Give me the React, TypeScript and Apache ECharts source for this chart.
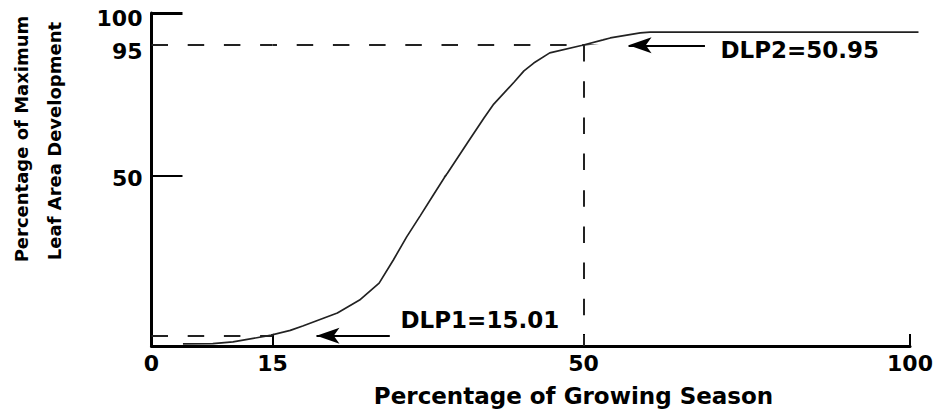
import React, { useEffect, useRef } from "react";
import * as echarts from "echarts";

// ---------------- data ----------------
const seasonPct = [3.9, 7.6, 10.1, 14.7, 17.0, 18.4, 22.3, 24.8, 27.0, 28.6, 30.1, 31.6, 33.1, 34.7, 37.0, 38.8, 39.9, 42.2, 43.3, 44.4, 46.2, 50.0, 53.0, 54.1, 58.7, 60.2, 66.3, 101.3];
const leafAreaPct = [0.6, 0.7, 1.2, 3.1, 4.6, 5.9, 9.7, 13.5, 18.5, 25.3, 32.1, 38.2, 44.4, 51.0, 61.7, 69.9, 74.7, 82.3, 86.1, 88.8, 92.3, 95.0, 95.8, 96.1, 96.9, 97.0, 97.0, 97.0];

const xTicks = [0, 15, 50, 100];
const yTicks = [0, 50, 95, 100];

const dlpNames = ["DLP1=15.01", "DLP2=50.95"];
const dlpSeason = [15, 50];
const dlpLeaf = [3, 95];

// ---------------- layout (the schematic axes are piecewise) ----------------
const X_PIX = [151.5, 272.5, 583.5, 910];
const Y_PIX = [346, 176, 45, 13];
const Y_LABEL_SHIFT = [2.5, 6, 5];
const DASH = [16.5, 19.7];
const DASH_PERIOD = DASH[0] + DASH[1];
// annotation anchors, in data units of the segment where they sit
const ARROW1 = [[19.95, 3], [28.2, 3]];
const ARROW2 = [[56.9, 94.9], [68.6, 94.9]];
const LABEL1_AT = [29.35, 7.65];
const LABEL2_AT = [70.9, 93.3];

const FONT = '"DejaVu Sans", Verdana, sans-serif';
const INK = "#000";
const LINE = "#222";

function gi(i: number, j: number) {
  return j * 3 + i;
}

function buildOption() {
  const grids: any[] = [];
  const xAxes: any[] = [];
  const yAxes: any[] = [];
  const series: any[] = [];
  const xEnd = Math.max(xTicks[3], ...seasonPct);
  const curve = seasonPct.map((x, k) => [x, leafAreaPct[k]]);

  for (let j = 0; j < 3; j++) {
    for (let i = 0; i < 3; i++) {
      const g = gi(i, j);
      const xMin = xTicks[i];
      const xMax = i === 2 && j > 0 ? xEnd : xTicks[i + 1];
      const pxPerX = (X_PIX[i + 1] - X_PIX[i]) / (xTicks[i + 1] - xTicks[i]);
      grids.push({
        left: X_PIX[i],
        top: Y_PIX[j + 1],
        width: (xMax - xMin) * pxPerX,
        height: Y_PIX[j] - Y_PIX[j + 1],
        containLabel: false,
        outerBoundsMode: "none",
      });
      xAxes.push({
        gridIndex: g,
        type: "value",
        min: xMin,
        max: xMax,
        show: j === 0,
        splitLine: { show: false },
        axisLine: { show: true, onZero: false, lineStyle: { color: INK, width: 3 } },
        axisTick: {
          show: true,
          inside: true,
          length: 12,
          lineStyle: { color: INK, width: 2 },
          customValues: [xTicks[i + 1]],
        },
        axisLabel: {
          show: true,
          customValues: i === 0 ? [xTicks[0], xTicks[1]] : [xTicks[i + 1]],
          showMinLabel: true,
          showMaxLabel: true,
          margin: 6,
          color: INK,
          fontSize: 22,
          fontWeight: "bold",
          fontFamily: FONT,
          formatter: (v: number) => String(v),
        },
      });
      yAxes.push({
        gridIndex: g,
        type: "value",
        min: yTicks[j],
        max: yTicks[j + 1],
        show: i === 0,
        splitLine: { show: false },
        axisLine: { show: true, onZero: false, lineStyle: { color: INK, width: 3 } },
        axisTick:
          j === 1
            ? { show: false }
            : {
                show: true,
                inside: true,
                length: 31,
                lineStyle: { color: INK, width: j === 2 ? 3 : 2 },
                customValues: [yTicks[j + 1]],
              },
        axisLabel: {
          show: true,
          customValues: [yTicks[j + 1]],
          showMinLabel: true,
          showMaxLabel: true,
          margin: 9,
          verticalAlign: "top",
          lineHeight: Y_LABEL_SHIFT[j] * 2,
          color: INK,
          fontSize: 22,
          fontWeight: "bold",
          fontFamily: FONT,
          formatter: (v: number) => String(v),
        },
      });
      series.push({
        type: "line",
        xAxisIndex: g,
        yAxisIndex: g,
        data: curve,
        showSymbol: false,
        symbol: "none",
        clip: true,
        silent: true,
        z: 3,
        lineStyle: { color: LINE, width: 1.7 },
      });
    }
  }

  const dashedSeg = (g: number, a: number[], b: number[], offset: number) => ({
    type: "line",
    xAxisIndex: g,
    yAxisIndex: g,
    data: [],
    clip: false,
    silent: true,
    markLine: {
      silent: true,
      animation: false,
      symbol: ["none", "none"],
      label: { show: false },
      lineStyle: { color: LINE, width: 2, type: DASH, dashOffset: offset % DASH_PERIOD },
      data: [[{ coord: a }, { coord: b }]],
    },
  });

  // horizontal dashed line at the DLP2 level, from 0 to DLP2
  series.push(dashedSeg(gi(0, 1), [xTicks[0], dlpLeaf[1]], [xTicks[1], dlpLeaf[1]], 0));
  series.push(
    dashedSeg(gi(1, 1), [xTicks[1], dlpLeaf[1]], [dlpSeason[1], dlpLeaf[1]], X_PIX[1] - X_PIX[0])
  );
  // vertical dashed line at DLP2, from the DLP2 level down to 0
  series.push(dashedSeg(gi(2, 1), [dlpSeason[1], dlpLeaf[1]], [dlpSeason[1], yTicks[1]], 0));
  series.push(
    dashedSeg(gi(2, 0), [dlpSeason[1], yTicks[1]], [dlpSeason[1], yTicks[0]], Y_PIX[1] - Y_PIX[2])
  );
  // horizontal dashed line at the DLP1 level
  series.push(dashedSeg(gi(0, 0), [xTicks[0], dlpLeaf[0]], [dlpSeason[0], dlpLeaf[0]], 0));

  const arrowSeries = (g: number, seg: number[][], labelAt: number[], text: string) => ({
    type: "line",
    xAxisIndex: g,
    yAxisIndex: g,
    data: [],
    clip: false,
    silent: true,
    markLine: {
      silent: true,
      animation: false,
      label: { show: false },
      lineStyle: { color: INK, width: 2, type: "solid" },
      itemStyle: { color: INK },
      data: [
        [
          { coord: seg[0], symbol: "arrow", symbolSize: [12, 23] },
          { coord: seg[1], symbol: "none" },
        ],
      ],
    },
    markPoint: {
      silent: true,
      animation: false,
      symbol: "rect",
      symbolSize: 1,
      itemStyle: { color: "rgba(0,0,0,0)" },
      label: {
        show: true,
        position: "right",
        distance: 0,
        formatter: text,
        color: INK,
        fontSize: 23,
        fontWeight: "bold",
        fontFamily: FONT,
      },
      data: [{ coord: labelAt }],
    },
  });

  series.push(arrowSeries(gi(1, 0), ARROW1, LABEL1_AT, dlpNames[0]));
  series.push(arrowSeries(gi(2, 1), ARROW2, LABEL2_AT, dlpNames[1]));

  const titleStyle = (text: string, size: number) => ({
    text,
    fontFamily: FONT,
    fontSize: size,
    fontWeight: "bold",
    fill: INK,
    textAlign: "center",
    textVerticalAlign: "middle",
    align: "center",
    verticalAlign: "middle",
  });

  return {
    animation: false,
    backgroundColor: "#fff",
    grid: grids,
    xAxis: xAxes,
    yAxis: yAxes,
    series,
    graphic: [
      { type: "text", x: 573.5, y: 395.5, silent: true, style: titleStyle("Percentage of Growing Season", 23) },
      { type: "text", x: 21, y: 139, rotation: Math.PI / 2, silent: true, style: titleStyle("Percentage of Maximum", 18) },
      { type: "text", x: 54, y: 141, rotation: Math.PI / 2, silent: true, style: titleStyle("Leaf Area Development", 18) },
    ],
  };
}

export default function App() {
  const ref = useRef<HTMLDivElement>(null);
  useEffect(() => {
    document.body.style.margin = "0";
    const chart = echarts.init(ref.current as HTMLDivElement, undefined, { renderer: "svg" });
    chart.setOption(buildOption() as any);
    return () => {
      chart.dispose();
    };
  }, []);
  return <div ref={ref} style={{ width: 943, height: 413, background: "#fff" }} />;
}
